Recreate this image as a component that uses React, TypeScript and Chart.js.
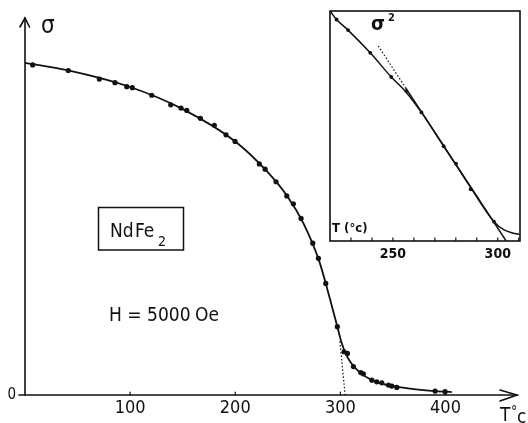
import React, { useEffect, useRef } from 'react';
import { Chart, registerables } from 'chart.js';

Chart.register(...registerables);

const FONT = "'DejaVu Sans Condensed', 'Liberation Sans Narrow', 'DejaVu Sans', sans-serif";
const INK = '#111111';

// ---------- main chart data: sigma vs T (°C) ----------
const tempPoints = [7.3, 41.2, 70.7, 85.6, 96.8, 102.1, 120.6, 138.6, 148.4, 153.9, 166.8, 180.1, 191.2, 199.8, 222.9, 228.4, 238.8, 249.0, 255.3, 262.6, 273.7, 279.1, 286.1, 297.1, 303.5, 306.7, 312.4, 319.4, 321.9, 329.9, 334.6, 339.4, 345.7, 348.9, 353.7, 390.1, 399.6];
const sigmaPoints = [100.0, 98.3, 95.7, 94.6, 93.4, 93.1, 90.8, 87.9, 86.9, 86.2, 83.8, 81.7, 78.8, 76.8, 70.0, 68.4, 64.6, 60.3, 57.9, 53.5, 46.0, 41.4, 33.8, 20.7, 13.1, 12.6, 8.6, 6.8, 6.4, 4.5, 4.0, 3.7, 3.0, 2.7, 2.3, 1.2, 1.0];
const curveT = [0, 40, 100, 150, 200, 230, 250, 265, 280, 290, 297, 301, 305, 310, 318, 330, 345, 370, 390, 406];
const curveSigma = [100.6, 98.4, 93.3, 86.6, 76.8, 67.8, 60.0, 51.9, 40.4, 29.2, 20.8, 16.0, 12.6, 9.8, 7.0, 4.5, 3.0, 1.8, 1.2, 0.9];
const tangentT = [299.5, 304.5];
const tangentSigma = [16.2, 0];
const mainTickLabels = [100, 200, 300, 400];

// ---------- inset data: sigma^2 vs T (°C) ----------
const insetT = [223.1, 228.6, 239.2, 249.2, 256.4, 263.6, 274.2, 280.1, 287.1, 298.2];
const insetSigma2 = [96.3, 91.7, 81.8, 71.3, 65.2, 55.9, 41.2, 33.6, 22.5, 8.4];
const insetCurveT = [220, 223.1, 228.6, 239.2, 249.2, 256.4, 263.6, 274.2, 280.1, 287.1, 298.2, 303, 307, 310.6];
const insetCurveS = [100, 96.3, 91.7, 81.8, 71.3, 64.6, 55.9, 41.2, 33.0, 23.2, 8.4, 4.8, 3.5, 2.8];
const fitSolidT = [256, 304];
const fitSolidS = [66.7, 0];
const fitDotT = [243, 256];
const fitDotS = [84.8, 66.7];
const insetTickLabels = [250, 300];
const insetMinorTicks = [230, 240, 250, 260, 270, 280, 290, 300, 310];

const pts = (xs: number[], ys: number[]) => xs.map((x, i) => ({ x, y: ys[i] }));

const mainDecor = {
  id: 'mainDecor',
  afterDatasetsDraw(chart: any) {
    const { ctx, chartArea: a, scales } = chart;
    const x0 = scales.x.getPixelForValue(0);
    const y0 = scales.y.getPixelForValue(0);
    ctx.save();
    ctx.strokeStyle = INK;
    ctx.fillStyle = INK;
    ctx.lineWidth = 1.6;
    ctx.lineCap = 'round';
    // y axis + arrow
    ctx.beginPath();
    ctx.moveTo(x0, y0);
    ctx.lineTo(x0, a.top);
    ctx.stroke();
    ctx.beginPath();
    ctx.moveTo(x0 - 5, a.top + 9);
    ctx.lineTo(x0, a.top);
    ctx.lineTo(x0 + 4.5, a.top + 9);
    ctx.stroke();
    // x axis + arrow
    ctx.beginPath();
    ctx.moveTo(x0 - 6, y0);
    ctx.lineTo(a.right, y0);
    ctx.stroke();
    ctx.beginPath();
    ctx.moveTo(a.right - 17, y0 - 5);
    ctx.lineTo(a.right, y0);
    ctx.lineTo(a.right - 17, y0 + 6);
    ctx.stroke();
    // small tick marks
    ctx.lineWidth = 1.2;
    mainTickLabels.forEach((v) => {
      const px = scales.x.getPixelForValue(v);
      ctx.beginPath();
      ctx.moveTo(px, y0);
      ctx.lineTo(px, y0 - 3);
      ctx.stroke();
    });
    // labels
    ctx.textBaseline = 'alphabetic';
    ctx.textAlign = 'left';
    ctx.font = `24px ${FONT}`;
    ctx.fillText('σ', 41, 33);
    ctx.font = `19px ${FONT}`;
    ctx.fillText('T', 500, 421);
    ctx.font = `14px ${FONT}`;
    ctx.fillText('°', 511, 416);
    ctx.font = `19px ${FONT}`;
    ctx.fillText('c', 517, 423);
    // compound box
    ctx.lineWidth = 1.5;
    ctx.strokeRect(98.5, 207.5, 85, 42.5);
    ctx.font = `19px ${FONT}`;
    ctx.fillText('Nd', 110, 237);
    ctx.fillText('Fe', 135, 237);
    ctx.font = `14px ${FONT}`;
    ctx.fillText('2', 158, 246);
    ctx.font = `19px ${FONT}`;
    ctx.fillText('H = 5000', 109, 321);
    ctx.fillText('Oe', 195, 321);
    ctx.restore();
  },
};

const insetDecor = {
  id: 'insetDecor',
  afterDatasetsDraw(chart: any) {
    const { ctx, chartArea: a, scales } = chart;
    ctx.save();
    ctx.strokeStyle = INK;
    ctx.fillStyle = INK;
    ctx.lineWidth = 1.6;
    ctx.strokeRect(a.left, a.top, a.right - a.left, a.bottom - a.top);
    ctx.lineWidth = 1.2;
    insetMinorTicks.forEach((v) => {
      const px = scales.x.getPixelForValue(v);
      ctx.beginPath();
      ctx.moveTo(px, a.bottom);
      ctx.lineTo(px, a.bottom - 3.5);
      ctx.stroke();
    });
    ctx.textBaseline = 'alphabetic';
    ctx.textAlign = 'left';
    ctx.font = `bold 20px ${FONT}`;
    ctx.fillText('σ', a.left + 41, a.top + 19);
    ctx.font = `bold 11px ${FONT}`;
    ctx.fillText('2', a.left + 58, a.top + 10);
    ctx.font = `bold 13px ${FONT}`;
    ctx.fillText('T (°c)', a.left + 2, a.bottom - 9);
    ctx.restore();
  },
};

export default function App() {
  const mainRef = useRef<HTMLCanvasElement>(null);
  const insetRef = useRef<HTMLCanvasElement>(null);

  useEffect(() => {
    const main = new Chart(mainRef.current as HTMLCanvasElement, {
      type: 'scatter',
      data: {
        datasets: [
          {
            data: pts(tempPoints, sigmaPoints),
            pointRadius: 2.6,
            pointBackgroundColor: INK,
            pointBorderWidth: 0,
            showLine: false,
            order: 0,
          },
          {
            data: pts(curveT, curveSigma),
            showLine: true,
            pointRadius: 0,
            borderColor: INK,
            borderWidth: 1.8,
            cubicInterpolationMode: 'monotone',
            order: 1,
          },
          {
            data: pts(tangentT, tangentSigma),
            showLine: true,
            pointRadius: 0,
            borderColor: INK,
            borderWidth: 1.2,
            borderDash: [1.5, 2],
            order: 2,
            clip: false,
          },
        ],
      } as any,
      options: {
        animation: false,
        responsive: false,
        events: [],
        layout: { padding: { top: 18, right: 11, left: 0, bottom: 0 } },
        plugins: { legend: { display: false }, tooltip: { enabled: false } },
        scales: {
          x: {
            type: 'linear',
            min: 0,
            max: 468,
            grid: { display: false, drawTicks: false },
            border: { display: false },
            ticks: {
              stepSize: 100,
              autoSkip: false,
              maxRotation: 0,
              padding: 3,
              color: INK,
              font: { family: FONT, size: 18 },
              callback: (v: any) => (mainTickLabels.includes(v) ? String(v) : ''),
            },
            afterFit: (s: any) => {
              s.height = 28;
            },
          },
          y: {
            type: 'linear',
            min: 0,
            max: 114.2,
            grid: { display: false, drawTicks: false },
            border: { display: false },
            ticks: {
              stepSize: 1000,
              autoSkip: false,
              padding: 9,
              color: INK,
              font: { family: FONT, size: 15 },
              callback: (v: any) => (v === 0 ? '0' : ''),
            },
            afterFit: (s: any) => {
              s.width = 25;
            },
          },
        },
      } as any,
      plugins: [mainDecor],
    });

    const inset = new Chart(insetRef.current as HTMLCanvasElement, {
      type: 'scatter',
      data: {
        datasets: [
          {
            data: pts(insetT, insetSigma2),
            pointRadius: 1.9,
            pointBackgroundColor: INK,
            pointBorderWidth: 0,
            showLine: false,
            order: 0,
          },
          {
            data: pts(insetCurveT, insetCurveS),
            showLine: true,
            pointRadius: 0,
            borderColor: INK,
            borderWidth: 1.5,
            cubicInterpolationMode: 'monotone',
            order: 1,
          },
          {
            data: pts(fitSolidT, fitSolidS),
            showLine: true,
            pointRadius: 0,
            borderColor: INK,
            borderWidth: 1.5,
            order: 2,
          },
          {
            data: pts(fitDotT, fitDotS),
            showLine: true,
            pointRadius: 0,
            borderColor: INK,
            borderWidth: 1.2,
            borderDash: [1.5, 2],
            order: 3,
          },
        ],
      } as any,
      options: {
        animation: false,
        responsive: false,
        events: [],
        layout: { padding: { top: 11, right: 8, left: 30, bottom: 0 } },
        plugins: { legend: { display: false }, tooltip: { enabled: false } },
        scales: {
          x: {
            type: 'linear',
            min: 220,
            max: 310.6,
            grid: { display: false, drawTicks: false },
            border: { display: false },
            ticks: {
              stepSize: 10,
              autoSkip: false,
              maxRotation: 0,
              padding: 5,
              color: INK,
              font: { family: FONT, size: 14, weight: 'bold' },
              callback: (v: any) => (insetTickLabels.includes(v) ? String(v) : ''),
            },
            afterFit: (s: any) => {
              s.height = 29;
            },
          },
          y: { display: false, min: 0, max: 100 },
        },
      } as any,
      plugins: [insetDecor],
    });

    return () => {
      main.destroy();
      inset.destroy();
    };
  }, []);

  return (
    <div style={{ position: 'fixed', left: 0, top: 0, width: 528, height: 423, background: '#fff', overflow: 'hidden' }}>
      <canvas ref={mainRef} width={528} height={423} style={{ position: 'absolute', left: 0, top: 0, width: 528, height: 423 }} />
      <canvas ref={insetRef} width={228} height={270} style={{ position: 'absolute', left: 300, top: 0, width: 228, height: 270 }} />
    </div>
  );
}
